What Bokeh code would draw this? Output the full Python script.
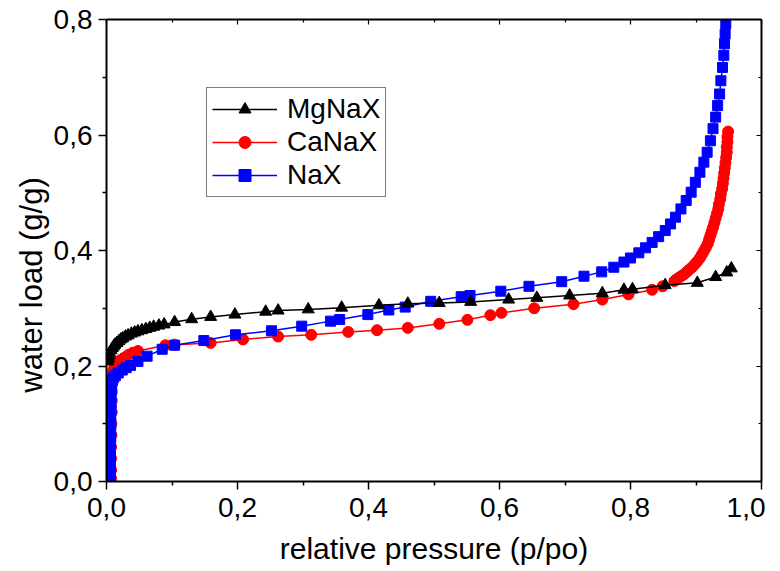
from bokeh.plotting import figure
from bokeh.models import (LinearAxis, FixedTicker, CustomJSTickFormatter, Legend,
                          LegendItem, ColumnDataSource, Range1d)
from bokeh.embed import file_html
from bokeh.resources import INLINE

# ---------------- data ----------------
mg_x = [0.002, 0.003, 0.004, 0.005, 0.007, 0.009, 0.011, 0.013, 0.016, 0.019,
        0.022, 0.025, 0.029, 0.033, 0.038, 0.043, 0.048, 0.054, 0.060, 0.066,
        0.072, 0.080, 0.088, 0.104, 0.130, 0.159, 0.196, 0.243, 0.262, 0.308,
        0.359, 0.416, 0.460, 0.508, 0.556, 0.614, 0.657, 0.707, 0.757, 0.790,
        0.803, 0.853, 0.902, 0.930, 0.947, 0.954]
mg_y = [0.208, 0.213, 0.218, 0.222, 0.227, 0.231, 0.234, 0.237, 0.240, 0.243,
        0.246, 0.248, 0.251, 0.253, 0.256, 0.258, 0.260, 0.262, 0.264, 0.266,
        0.268, 0.270, 0.272, 0.276, 0.281, 0.285, 0.289, 0.294, 0.296, 0.298,
        0.301, 0.305, 0.308, 0.309, 0.311, 0.315, 0.318, 0.322, 0.326, 0.332,
        0.333, 0.340, 0.344, 0.354, 0.362, 0.369]

ca_x = [0.007, 0.007, 0.007, 0.007, 0.0075, 0.0075, 0.008, 0.008, 0.008, 0.0085,
        0.009, 0.010, 0.012, 0.016, 0.021, 0.0265, 0.033, 0.040, 0.048, 0.090,
        0.104, 0.159, 0.2085, 0.262, 0.3125, 0.369, 0.413, 0.460, 0.508, 0.551,
        0.586, 0.603, 0.653, 0.713, 0.757, 0.797, 0.833, 0.849, 0.867, 0.870,
        0.874, 0.878, 0.882, 0.886, 0.890, 0.894, 0.898, 0.902, 0.906, 0.909,
        0.912, 0.915, 0.918, 0.920, 0.922, 0.924, 0.926, 0.928, 0.930, 0.932,
        0.934, 0.935, 0.937, 0.938, 0.940, 0.941, 0.942, 0.943, 0.944, 0.945,
        0.946, 0.947, 0.947, 0.948, 0.948, 0.949]
ca_y = [0.005, 0.020, 0.040, 0.060, 0.080, 0.100, 0.120, 0.140, 0.155, 0.170,
        0.182, 0.191, 0.198, 0.204, 0.210, 0.214, 0.219, 0.223, 0.226, 0.236,
        0.237, 0.240, 0.246, 0.251, 0.254, 0.259, 0.262, 0.266, 0.273, 0.280,
        0.288, 0.292, 0.300, 0.307, 0.315, 0.324, 0.332, 0.338, 0.347, 0.350,
        0.353, 0.356, 0.359, 0.363, 0.367, 0.371, 0.376, 0.381, 0.387, 0.393,
        0.399, 0.405, 0.412, 0.419, 0.426, 0.433, 0.440, 0.448, 0.456, 0.464,
        0.472, 0.480, 0.489, 0.498, 0.507, 0.516, 0.525, 0.534, 0.543, 0.552,
        0.561, 0.570, 0.579, 0.588, 0.597, 0.606]

na_x = [0.006, 0.006, 0.006, 0.006, 0.006, 0.006, 0.0065, 0.0065, 0.0065, 0.0065,
        0.007, 0.007, 0.007, 0.0075, 0.008, 0.009, 0.011, 0.0137, 0.018, 0.024,
        0.030, 0.0366, 0.048, 0.062, 0.085, 0.104, 0.1486, 0.197, 0.252, 0.298,
        0.342, 0.356, 0.399, 0.431, 0.456, 0.495, 0.5415, 0.555, 0.602, 0.645,
        0.695, 0.729, 0.756, 0.7745, 0.790, 0.800, 0.8127, 0.823, 0.833, 0.843,
        0.853, 0.861, 0.8687, 0.877, 0.885, 0.8926, 0.899, 0.906, 0.912, 0.917,
        0.922, 0.926, 0.930, 0.933, 0.936, 0.938, 0.9405, 0.9425, 0.9435, 0.9445,
        0.9455, 0.946]
na_y = [0.004, 0.016, 0.028, 0.040, 0.052, 0.064, 0.076, 0.088, 0.100, 0.112,
        0.124, 0.136, 0.148, 0.158, 0.167, 0.175, 0.180, 0.1835, 0.188, 0.193,
        0.197, 0.201, 0.208, 0.217, 0.229, 0.236, 0.244, 0.254, 0.261, 0.269,
        0.2777, 0.2805, 0.289, 0.297, 0.302, 0.312, 0.320, 0.322, 0.3295, 0.338,
        0.346, 0.3555, 0.363, 0.371, 0.380, 0.387, 0.396, 0.4047, 0.414, 0.424,
        0.4346, 0.446, 0.4577, 0.472, 0.4866, 0.501, 0.518, 0.5356, 0.553, 0.570,
        0.590, 0.611, 0.631, 0.651, 0.671, 0.694, 0.717, 0.738, 0.758, 0.775,
        0.793, 0.812]

x_ticks = [0.0, 0.2, 0.4, 0.6, 0.8, 1.0]
x_minor = [0.1, 0.3, 0.5, 0.7, 0.9]
y_ticks = [0.0, 0.2, 0.4, 0.6, 0.8]
y_minor = [0.1, 0.3, 0.5, 0.7]

FONT = "Liberation Sans"

p = figure(frame_width=655, frame_height=462, output_backend="svg",
           toolbar_location=None, x_range=Range1d(0, 1.0), y_range=Range1d(0, 0.8),
           min_border_left=106, min_border_top=19, min_border_right=4,
           min_border_bottom=10)
p.grid.visible = False
p.outline_line_color = None
p.background_fill_color = "white"
p.border_fill_color = "white"

fmt = CustomJSTickFormatter(code="return tick.toFixed(1).replace('.', ',');")
blank = CustomJSTickFormatter(code="return '';")

def style_main(ax, ticks, minor):
    ax.ticker = FixedTicker(ticks=ticks, minor_ticks=minor)
    ax.formatter = fmt
    ax.axis_label_text_font = FONT
    ax.axis_label_text_font_size = "30px"
    ax.axis_label_text_font_style = "normal"
    ax.axis_label_text_color = "black"
    ax.major_label_text_font = FONT
    ax.major_label_text_font_size = "28px"
    ax.major_label_text_color = "black"
    ax.axis_line_width = 2
    ax.axis_line_color = "black"
    ax.major_tick_line_width = 1.5
    ax.minor_tick_line_width = 1.5
    ax.major_tick_out = 8
    ax.major_tick_in = 0
    ax.minor_tick_out = 4
    ax.minor_tick_in = 0

style_main(p.xaxis[0], x_ticks, x_minor)
style_main(p.yaxis[0], y_ticks, y_minor)
p.xaxis[0].axis_label = "relative pressure (p/po)"
p.xaxis[0].major_label_standoff = 8
p.xaxis[0].axis_label_standoff = 12
p.yaxis[0].major_label_standoff = 6
# trailing no-break spaces push the visible title a little below the frame centre
p.yaxis[0].axis_label = "water load (g/g)" + "\u00a0" * 8
p.yaxis[0].axis_label_text_font_size = "31px"
p.yaxis[0].axis_label_standoff = 2

def mirror(ticks, minor):
    ax = LinearAxis(ticker=FixedTicker(ticks=ticks, minor_ticks=minor),
                    formatter=blank)
    ax.major_label_standoff = 0
    ax.axis_line_width = 2
    ax.axis_line_color = "black"
    ax.major_tick_out = 0
    ax.major_tick_in = 5
    ax.minor_tick_out = 0
    ax.minor_tick_in = 3
    ax.major_tick_line_width = 1.2
    ax.minor_tick_line_width = 1.2
    return ax

p.add_layout(mirror(x_ticks, x_minor), "above")
p.add_layout(mirror(y_ticks, y_minor), "right")

src_mg = ColumnDataSource(dict(x=mg_x, y=mg_y))
src_ca = ColumnDataSource(dict(x=ca_x, y=ca_y))
src_na = ColumnDataSource(dict(x=na_x, y=na_y))

l_ca = p.line("x", "y", source=src_ca, color="#ff0000", line_width=1.5)
m_ca = p.scatter("x", "y", source=src_ca, marker="circle", size=11,
                 fill_color="#ff0000", line_color="#ff0000")
l_na = p.line("x", "y", source=src_na, color="#0000ff", line_width=1.5)
m_na = p.scatter("x", "y", source=src_na, marker="square", size=10,
                 fill_color="#0000ff", line_color="#0000ff")
l_mg = p.line("x", "y", source=src_mg, color="black", line_width=1.5)
m_mg = p.scatter("x", "y", source=src_mg, marker="triangle", size=12,
                 fill_color="black", line_color="black")

legend = Legend(items=[
    LegendItem(label="MgNaX", renderers=[l_mg, m_mg]),
    LegendItem(label="CaNaX", renderers=[l_ca, m_ca]),
    LegendItem(label="NaX", renderers=[l_na, m_na]),
], location=(100, 284))
legend.label_text_font = FONT
legend.label_text_font_size = "28px"
legend.label_text_color = "black"
legend.glyph_width = 65
legend.glyph_height = 30
legend.label_height = 30
legend.spacing = 1
legend.padding = 5
legend.margin = 0
legend.label_standoff = 10
legend.border_line_color = "black"
legend.border_line_width = 1
legend.background_fill_alpha = 1
p.add_layout(legend, "center")

open("out.html", "w").write(file_html(p, INLINE))
